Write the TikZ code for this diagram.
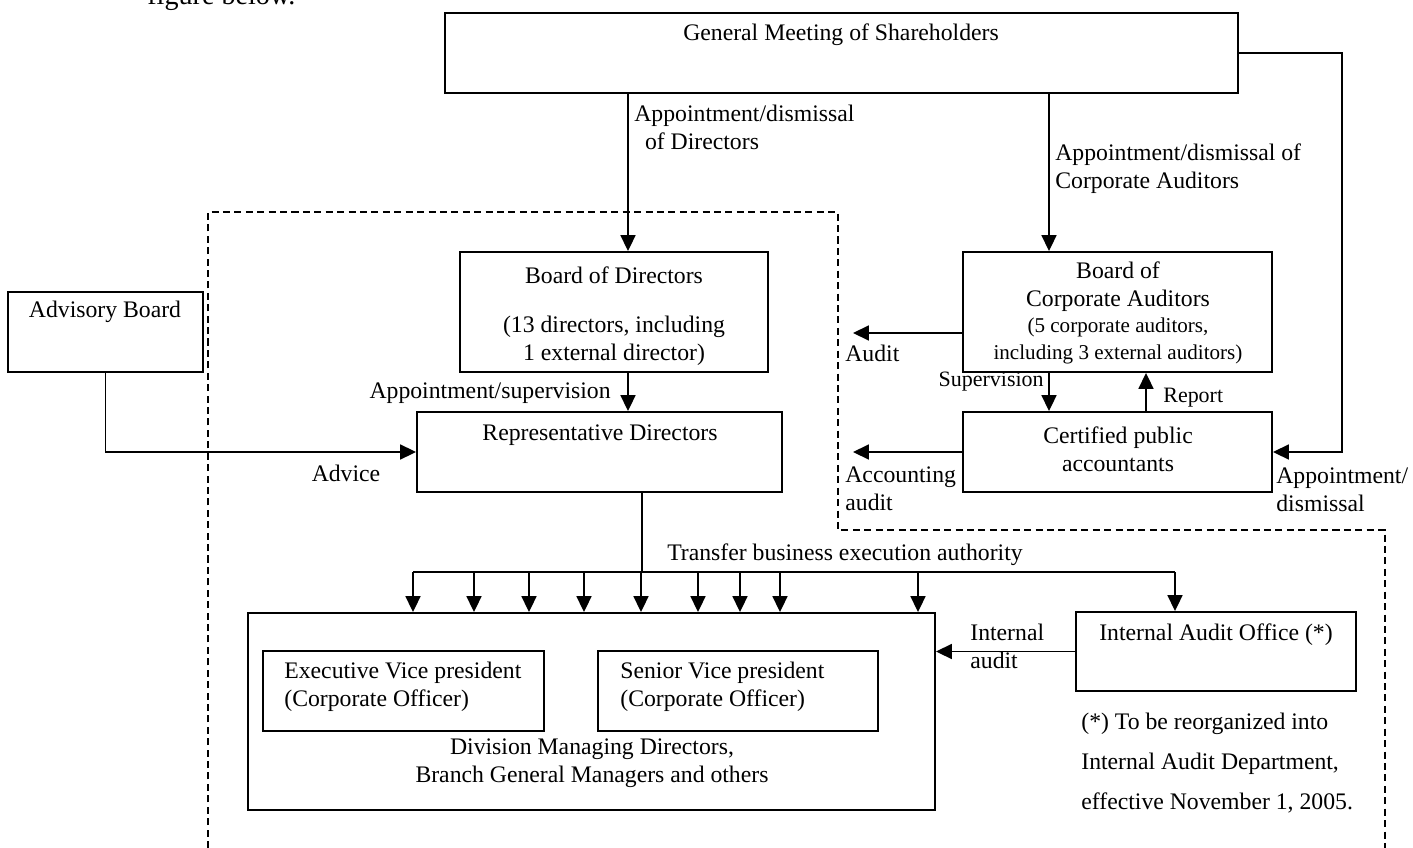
\documentclass[tikz,border=0pt]{standalone}
\usepackage{fontspec}
\setmainfont{Liberation Serif}
\usetikzlibrary{arrows.meta,fit}

\tikzset{
  orgbox/.style={draw, line width=1.1pt, inner sep=0pt},
  arr/.style={line width=0.9pt, -{Triangle[length=9pt,width=8.5pt]}},
  plain/.style={line width=0.9pt},
  boundary/.style={line width=0.9pt, dash pattern=on 4pt off 2.5pt},
  small/.style={font=\fontsize{12}{15.5}\selectfont},
  smaller/.style={font=\fontsize{12.5}{15}\selectfont},
}

\begin{document}
\begin{tikzpicture}[x=0.02cm, y=0.02cm, font=\fontsize{13.5}{16}\selectfont]
\tikzstyle{every node}+=[inner sep=0pt]
\useasboundingbox (0,0) rectangle (1413,-848);
\node (figt) [anchor=base west, font=\fontsize{16}{19}\selectfont] at (147,-5) {figure below.};
\node (gms) [orgbox, fit={(445,-13) (1238,-93)}] {};
\node (gmst) at (841,-35) {General Meeting of Shareholders};
\node (adv) [orgbox, fit={(8,-292) (203,-372)}] {};
\node (advt) at (105,-312) {Advisory Board};
\node (bod) [orgbox, fit={(460,-252) (768,-372)}] {};
\node (bodt) at (614,-275) {Board of Directors};
\node (bodn) [align=center] at (614,-341) {(13 directors, including\\1 external director)};
\node (rd) [orgbox, fit={(417,-412) (782,-492)}] {};
\node (rdt) at (600,-435) {Representative Directors};
\node (bca) [orgbox, fit={(963,-252) (1272,-372)}] {};
\node (bcat) [align=center] at (1118,-287) {Board of\\Corporate Auditors};
\node (bcan) [small, align=center] at (1118,-341) {(5 corporate auditors,\\including 3 external auditors)};
\node (cpa) [orgbox, fit={(963,-412) (1272,-492)}] {};
\node (cpat) [align=center] at (1118,-449) {Certified public\\accountants};
\node (div) [orgbox, fit={(248,-613) (935,-810)}] {};
\node (evp) [orgbox, fit={(263,-651) (544,-731)}] {};
\node (evpt) [anchor=west, align=left] at (284,-687) {Executive Vice president\\(Corporate Officer)};
\node (svp) [orgbox, fit={(598,-651) (878,-731)}] {};
\node (svpt) [anchor=west, align=left] at (620,-687) {Senior Vice president\\(Corporate Officer)};
\node (divt) [align=center] at (592,-763) {Division Managing Directors,\\Branch General Managers and others};
\node (iao) [orgbox, fit={(1076,-612) (1356,-691)}] {};
\node (iaot) at (1216,-635) {Internal Audit Office (*)};
\node (note) [anchor=west, align=left, font=\fontsize{13.5}{23}\selectfont] at (1081,-763) {(*) To be reorganized into\\Internal Audit Department,\\effective November 1, 2005.};
\draw [boundary] (208,-848) -- (208,-212) -- (838,-212) -- (838,-530) -- (1385,-530) -- (1385,-848);
\coordinate (dirx) at (628,0);
\coordinate (audx) at (1049,0);
\coordinate (repx) at (1146,0);
\coordinate (rdx) at (642,0);
\coordinate (rbend) at (1342,-452);
\coordinate (audend) at (853,-333);
\coordinate (accend) at (853,-452);
\coordinate (busw) at (413,-572);
\coordinate (buse) at (1175,-572);
\draw [arr] (dirx |- gms.south) -- (dirx |- bod.north);
\draw (634,-127) node [anchor=west, align=left] (ldir) {Appointment/dismissal\\\hspace*{0.45em}of Directors};
\draw [arr] (audx |- gms.south) -- (audx |- bca.north);
\draw (1055,-169) node [anchor=west, align=left] (laud) {Appointment/dismissal of\\Corporate Auditors};
\draw [arr] (gms.east) -| (rbend) -- (cpa.east);
\draw (1276,-490) node [anchor=west, align=left] (lapd) {Appointment/\\dismissal};
\draw [arr] (adv.south) |- (rd.west);
\draw (346,-473) node (ladv) {Advice};
\draw [arr] (dirx |- bod.south) -- (dirx |- rd.north);
\draw (611,-393) node [anchor=east] (laps) {Appointment/supervision};
\draw [plain] (rdx |- rd.south) -- (rdx |- busw);
\draw [plain] (busw) -- (buse);
\draw (845,-555) node (ltr) {Transfer business execution authority};
\foreach \x in {413,474,529,584,641,698,740,780,918}
  \draw [arr] (\x,0 |- busw) -- (\x,0 |- div.north);
\draw [arr] (buse) -- (buse |- iao.north);
\draw [arr] (iao.west) -- (iao.west -| div.east);
\draw (970,-646) node [anchor=west, align=left] (lint) {Internal\\audit};
\draw [arr] (bca.west |- audend) -- (audend);
\draw (845,-353) node [anchor=west] (laudit) {Audit};
\draw [arr] (cpa.west) -- (accend);
\draw (845,-489) node [anchor=west, align=left] (lacc) {Accounting\\audit};
\draw [arr] (audx |- bca.south) -- (audx |- cpa.north);
\draw (1044,-382) node [anchor=east, smaller] (lsup) {Supervision};
\draw [arr] (repx |- cpa.north) -- (repx |- bca.south);
\draw (1163,-398) node [anchor=west, smaller] (lrep) {Report};
\end{tikzpicture}
\end{document}
